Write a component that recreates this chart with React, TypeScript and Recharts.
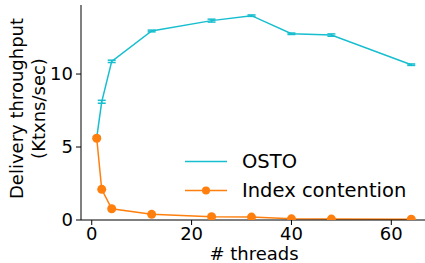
import React from "react";
import {
	ErrorBar,
	Label,
	Line,
	LineChart,
	XAxis,
	YAxis,
} from "recharts";

const threads = [1, 2, 4, 12, 24, 32, 40, 48, 64];
const ostoThroughput = [5.65, 8.1, 10.87, 12.95, 13.66, 14.0, 12.76, 12.67, 10.64];
const ostoError = [0.08, 0.1, 0.08, 0.06, 0.1, 0.05, 0.05, 0.08, 0.05];
const indexContention = [5.6, 2.1, 0.77, 0.39, 0.23, 0.2, 0.08, 0.06, 0.05];

const xTicks = [0, 20, 40, 60];
const yTicks = [0, 5, 10];

const CYAN = "#17becf";
const ORANGE = "#ff7f0e";
const FONT = "'DejaVu Sans', sans-serif";

const data = threads.map((t, i) => ({
	threads: t,
	osto: ostoThroughput[i],
	ostoErr: ostoError[i],
	contention: indexContention[i],
}));

const tickStyle = { fill: "#000", fontSize: 18, fontFamily: FONT };

const YLabel = ({ viewBox }: any) => {
	const cy = viewBox.y + viewBox.height / 2 - 4;
	return (
		<g fontFamily={FONT} fontSize={18} fill="#000" textAnchor="middle">
			<text transform={`translate(23 ${cy}) rotate(-90)`}>Delivery throughput</text>
			<text transform={`translate(45 ${cy}) rotate(-90)`}>(Ktxns/sec)</text>
		</g>
	);
};

const XLabel = ({ viewBox }: any) => (
	<text
		x={viewBox.x + viewBox.width / 2}
		y={259.5}
		textAnchor="middle"
		fontFamily={FONT}
		fontSize={18}
		fill="#000"
	>
		# threads
	</text>
);

export default function App() {
	return (
		<div style={{ position: "absolute", left: 0, top: 0, width: 425, height: 263, background: "#fff" }}>
			<LineChart
				width={425}
				height={263}
				data={data}
				margin={{ top: 5, right: -2, bottom: 0, left: 0 }}
			>
				<XAxis
					dataKey="threads"
					type="number"
					domain={[-2.15, 67.15]}
					ticks={xTicks}
					allowDataOverflow
					height={43}
					tick={tickStyle}
					tickSize={5}
					tickMargin={2}
					stroke="#000"
				>
					<Label content={<XLabel />} />
				</XAxis>
				<XAxis
					xAxisId="top"
					orientation="top"
					dataKey="threads"
					type="number"
					domain={[-2.15, 67.15]}
					height={0}
					tick={false}
					tickLine={false}
					stroke="#000"
				/>
				<YAxis
					type="number"
					domain={[0, 14.73]}
					ticks={yTicks}
					allowDataOverflow
					width={81}
					tick={tickStyle}
					tickSize={5}
					tickMargin={3}
					stroke="#000"
				>
					<Label content={<YLabel />} />
				</YAxis>
				<Line
					dataKey="osto"
					stroke={CYAN}
					strokeWidth={1.5}
					dot={false}
					activeDot={false}
					isAnimationActive={false}
				>
					<ErrorBar dataKey="ostoErr" width={4} stroke={CYAN} strokeWidth={1.5} direction="y" />
				</Line>
				<Line
					dataKey="contention"
					stroke={ORANGE}
					strokeWidth={1.5}
					dot={{ r: 4.5, fill: ORANGE, stroke: ORANGE, strokeWidth: 0 }}
					activeDot={false}
					isAnimationActive={false}
				/>
			</LineChart>
			<div
				style={{
					position: "absolute",
					left: 184,
					top: 147,
					fontFamily: FONT,
					fontSize: 19.5,
					color: "#000",
					lineHeight: "29px",
				}}
			>
				<div style={{ display: "flex", alignItems: "center", height: 29 }}>
					<svg width={43} height={29}>
						<line x1={1} x2={43} y1={14.5} y2={14.5} stroke={CYAN} strokeWidth={1.5} />
					</svg>
					<span style={{ marginLeft: 15 }}>OSTO</span>
				</div>
				<div style={{ display: "flex", alignItems: "center", height: 29 }}>
					<svg width={43} height={29}>
						<line x1={1} x2={43} y1={14.5} y2={14.5} stroke={ORANGE} strokeWidth={1.5} />
						<circle cx={22} cy={14.5} r={4} fill={ORANGE} />
					</svg>
					<span style={{ marginLeft: 15 }}>Index contention</span>
				</div>
			</div>
		</div>
	);
}
